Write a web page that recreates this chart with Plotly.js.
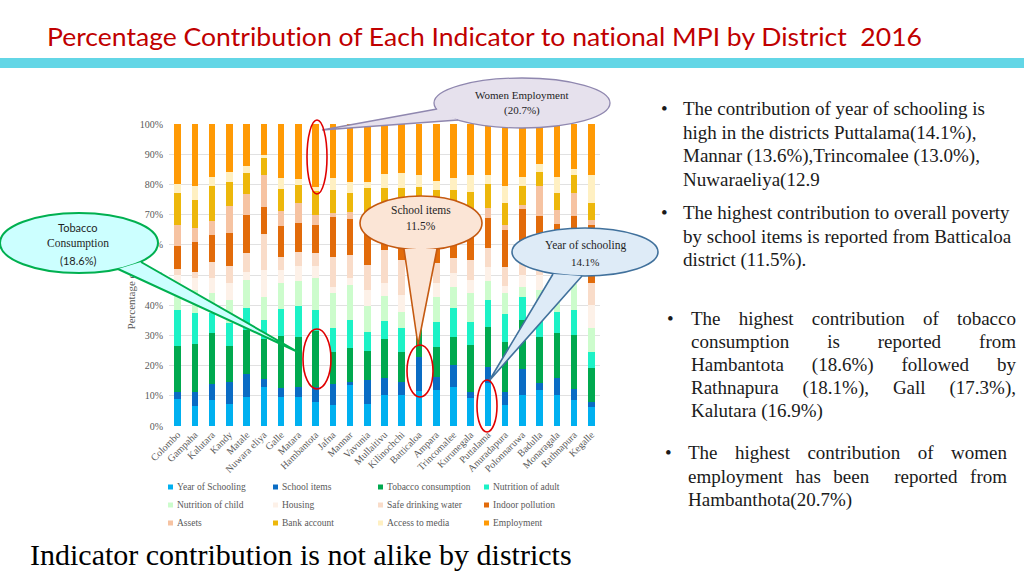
<!DOCTYPE html>
<html>
<head>
<meta charset="utf-8">
<script src="https://cdn.plot.ly/plotly-3.0.1.min.js"></script>
<style>
html,body{margin:0;padding:0;background:#fff;width:1024px;height:576px;overflow:hidden;position:relative;}
#ytitle{position:absolute;left:131px;top:277px;transform:translate(-50%,-50%) rotate(-90deg);font:11px "Liberation Serif","Times New Roman",serif;color:#595959;white-space:nowrap;z-index:0;}
#chart{position:absolute;left:0;top:0;width:1024px;height:576px;z-index:1;}
#title{position:absolute;left:47px;top:21px;font:25px "Lato",sans-serif;color:#C00000;white-space:nowrap;transform-origin:0 0;z-index:2;font-variant-ligatures:none;font-feature-settings:"liga" 0;}
#band{position:absolute;left:0;top:58px;width:1024px;height:10px;background:#63D6E6;z-index:2;}
.bul{position:absolute;font:19px "Liberation Serif","Times New Roman",serif;color:#1a1a1a;line-height:23.5px;z-index:2;}
.bul .dot{position:absolute;top:0;}
.j{text-align:justify;text-align-last:justify;}
#caption{position:absolute;left:30px;top:538px;font:30px "Liberation Serif","Times New Roman",serif;color:#000;line-height:34px;white-space:nowrap;z-index:2;}
</style>
</head>
<body>
<div id="ytitle">Percentage contribution</div>
<div id="chart"></div>
<div id="title"><span id="titletext">Percentage Contribution of Each Indicator to national MPI by District&nbsp; 2016</span></div>
<div id="band"></div>

<div class="bul" style="left:683px;top:97px;width:340px;">
  <span class="dot" style="left:-22px;">•</span>
  <div>The contribution of year of schooling is</div>
  <div>high in the districts Puttalama(14.1%),</div>
  <div>Mannar (13.6%),Trincomalee (13.0%),</div>
  <div>Nuwaraeliya(12.9</div>
</div>
<div class="bul" style="left:683px;top:201px;width:340px;">
  <span class="dot" style="left:-22px;">•</span>
  <div>The highest contribution to overall poverty</div>
  <div>by school items is reported from Batticaloa</div>
  <div>district (11.5%).</div>
</div>
<div class="bul" style="left:691px;top:307px;width:325px;line-height:23.1px;">
  <span class="dot" style="left:-24px;">•</span>
  <div class="j">The highest contribution of tobacco</div>
  <div class="j">consumption is reported from</div>
  <div class="j">Hambantota (18.6%) followed by</div>
  <div class="j">Rathnapura (18.1%), Gall (17.3%),</div>
  <div>Kalutara (16.9%)</div>
</div>
<div class="bul" style="left:688px;top:441px;width:319px;">
  <span class="dot" style="left:-23px;">•</span>
  <div class="j">The highest contribution of women</div>
  <div class="j">employment has been &nbsp;reported from</div>
  <div>Hambanthota(20.7%)</div>
</div>
<div id="caption">Indicator contribution is not alike by districts</div>

<script>
// ---- data (percent contribution of each indicator) ----
const districts = ['Colombo','Gampaha','Kalutara','Kandy','Matale','Nuwara eliya','Galle','Matara','Hambantota','Jafna','Mannar','Vavunia','Mullaitivu','Kilinochchi','Batticaloa','Ampara','Trincomalee','Kurunegala','Puttalama','Anuradapura','Polonnaruwa','Badulla','Monaragala','Rathnapura','Kegalle'];

const yearOfSchooling   = [9.1,6.6,8.6,7.3,9.5,12.9,9.5,9.5,7.9,7.0,13.6,7.3,10.3,10.3,11.5,11.9,13.0,9.2,14.1,7.0,10.3,11.9,10.3,8.6,6.4];
const schoolItems       = [2.3,4.8,5.2,7.3,7.6,2.6,3.0,3.5,5.0,6.9,1.1,7.9,5.5,4.4,11.5,4.4,7.2,2.2,5.5,4.4,8.5,2.4,5.5,3.5,1.7];
const tobacco           = [15.1,15.8,16.9,11.9,14.7,13.3,17.3,16.6,18.6,10.7,11.0,9.8,12.9,9.9,9.9,10.0,9.4,15.4,13.3,16.5,16.3,15.1,15.1,18.1,11.0];
const nutritionAdult    = [11.9,10.3,6.8,7.6,7.4,6.3,8.9,10.1,6.9,7.7,9.4,6.2,6.0,7.9,4.1,8.2,9.4,7.7,8.7,9.1,7.5,7.6,7.0,8.2,5.5];
const nutritionChild    = [6.1,7.5,6.5,7.6,9.1,7.7,8.8,8.3,10.6,11.7,11.6,8.5,8.3,5.4,7.0,8.2,7.1,9.5,6.4,7.0,3.4,8.0,9.5,8.7,7.9];
const housing           = [5.5,4.0,5.0,5.7,2.7,9.0,4.0,5.0,4.0,2.0,2.3,5.3,4.4,5.5,4.0,4.7,4.5,4.3,4.8,2.5,4.0,5.0,3.6,5.0,7.5];
const safeDrinkingWater = [1.9,2.0,5.4,5.6,6.2,11.7,4.4,4.7,4.4,10.0,7.6,8.3,10.9,11.6,7.5,6.6,5.0,6.7,6.0,6.3,7.0,6.0,5.0,5.0,7.5];
const indoorPollution   = [7.7,9.9,8.8,10.8,12.7,8.9,10.3,9.4,9.1,13.2,11.8,14.7,9.4,11.0,14.5,13.5,12.4,12.0,10.0,12.1,14.7,13.5,11.0,12.3,19.1];
const assets            = [7.0,4.6,4.7,9.0,6.9,10.7,5.0,6.6,3.3,1.3,2.6,2.9,3.3,4.0,5.7,3.5,3.0,3.5,3.3,1.7,1.5,10.0,4.5,7.7,1.6];
const bankAccount       = [10.4,9.5,11.6,8.1,7.1,5.5,7.2,6.1,8.0,7.5,6.3,8.0,7.9,8.8,3.3,7.0,7.0,7.1,8.0,7.4,6.3,4.7,5.8,6.1,5.6];
const accessToMedia     = [3.1,4.5,3.1,3.3,2.2,1.1,3.6,1.9,1.5,4.0,3.6,2.0,4.5,5.0,4.1,3.2,4.0,5.5,3.0,5.5,3.1,2.6,5.3,1.9,9.2];
const employment        = [19.9,20.5,17.4,15.8,13.9,10.3,18.0,18.3,20.7,18.0,19.1,19.1,16.6,16.2,16.9,18.8,18.0,16.9,16.9,20.5,17.4,13.2,17.4,14.9,17.0];

const indicators = ['Year of Schooling','School items','Tobacco consumption','Nutrition of adult','Nutrition of child','Housing','Safe drinking water','Indoor pollution','Assets','Bank account','Access to media','Employment'];
const series = [yearOfSchooling,schoolItems,tobacco,nutritionAdult,nutritionChild,housing,safeDrinkingWater,indoorPollution,assets,bankAccount,accessToMedia,employment];
const colors = ['#00B0F0','#0A6CC4','#00A94F','#1CF2C6','#CCFCCC','#FDF1E8','#F9DCC9','#E26B0A','#F6C3A2','#EDB70B','#FFF0C2','#FF9A05'];

// ---- geometry helpers (pixel -> paper) ----
const L = 169, R = 600, T = 124, B = 426;
const W = R - L, H = B - T;
const px = x => (x - L) / W;
const py = y => (B - y) / H;

const traces = series.map((vals, i) => ({
  type: 'bar', name: indicators[i], x: districts, y: vals,
  marker: {color: colors[i]}, showlegend: false, hoverinfo: 'skip'
}));

const serif = '"Liberation Serif","Times New Roman",serif';
const shapes = [];
const annotations = [];

function ellipse(cx, cy, rx, ry, fill, line, lw) {
  return {type: 'circle', xref: 'paper', yref: 'paper',
    x0: px(cx - rx), x1: px(cx + rx), y0: py(cy + ry), y1: py(cy - ry),
    fillcolor: fill, line: {color: line, width: lw}};
}
function tail(b1, tip, b2, fill, line, lw) {
  const f = p => px(p[0]).toFixed(5) + ',' + py(p[1]).toFixed(5);
  return {type: 'path', xref: 'paper', yref: 'paper',
    path: 'M' + f(b1) + 'L' + f(tip) + 'L' + f(b2),
    fillcolor: fill, line: {color: line, width: lw}};
}
function label(x, y, text, size, family) {
  annotations.push({xref: 'paper', yref: 'paper', x: px(x), y: py(y), text: text,
    showarrow: false, xanchor: 'center', yanchor: 'middle',
    font: {family: family || serif, size: size, color: '#1f1f1f'}});
}

// callout: women employment
shapes.push(ellipse(522, 103, 88, 25, '#E6E1ED', '#8F87AF', 1.3));
shapes.push(tail([437, 109], [322, 130], [458, 120], '#E6E1ED', '#8F87AF', 1.3));
label(522, 95, 'Women Employment', 11);
label(522, 111, '(20.7%)', 11);

// callout: school items
shapes.push(ellipse(421, 223, 61, 27, '#FBE5D6', '#C55A11', 1.6));
shapes.push(tail([404, 249], [418, 345], [437, 249], '#FBE5D6', '#C55A11', 1.6));
label(421, 210, 'School items', 11.5);
label(421, 226, '11.5%', 11.5);

// callout: year of schooling
shapes.push(ellipse(585, 252, 73, 24, '#DEEBF7', '#41719C', 1.6));
shapes.push(tail([553, 274], [489, 381], [582, 276], '#DEEBF7', '#41719C', 1.6));
label(585, 245, 'Year of schooling', 11.5);
label(585, 262, '14.1%', 11);

// callout: tobacco consumption
shapes.push(ellipse(79, 243, 79, 30, '#CCFFFF', '#00B050', 2));
shapes.push(tail([118, 269], [298, 352], [141, 262], '#CCFFFF', '#00B050', 2));
label(78, 227, 'Tobacco', 11, 'Lato, sans-serif');
label(78, 243, 'Consumption', 11.5);
label(78, 260, '(18.6%)', 11, 'Lato, sans-serif');

// red highlight ellipses
const red = '#E00000';
shapes.push(ellipse(317, 157, 10, 37, 'rgba(0,0,0,0)', red, 1.6));
shapes.push(ellipse(317, 359, 14, 30, 'rgba(0,0,0,0)', red, 1.6));
shapes.push(ellipse(420, 371, 13, 26, 'rgba(0,0,0,0)', red, 1.6));
shapes.push(ellipse(487, 406, 10, 26, 'rgba(0,0,0,0)', red, 1.6));

// legend (3 rows x 4 columns)
const legCols = [168, 273, 378, 484];
const legRows = [487, 505, 523];
indicators.forEach((name, i) => {
  const cx = legCols[i % 4], cy = legRows[Math.floor(i / 4)];
  shapes.push({type: 'rect', xref: 'paper', yref: 'paper',
    x0: px(cx), x1: px(cx + 5), y0: py(cy + 2.5), y1: py(cy - 2.5),
    fillcolor: colors[i], line: {width: 0}});
  annotations.push({xref: 'paper', yref: 'paper', x: px(cx + 7), y: py(cy), text: name,
    showarrow: false, xanchor: 'left', yanchor: 'middle',
    font: {family: serif, size: 9.5, color: '#595959'}});
});

const layout = {
  width: 1024, height: 576, autosize: false,
  margin: {l: L, r: 1024 - R, t: T, b: 576 - B, pad: 0},
  paper_bgcolor: 'rgba(0,0,0,0)', plot_bgcolor: 'rgba(0,0,0,0)',
  barmode: 'stack', bargap: 0.62,
  showlegend: false,
  xaxis: {type: 'category', tickangle: -45, showgrid: false, showline: false, zeroline: false,
    ticks: '', tickfont: {family: serif, size: 10, color: '#595959'}, fixedrange: true},
  yaxis: {range: [0, 100], dtick: 10, tick0: 0, ticksuffix: '%', showgrid: true,
    gridcolor: '#D9D9D9', gridwidth: 0.8, zeroline: false, showline: false, ticks: '',
    ticklabelstandoff: 5,
    tickfont: {family: serif, size: 10, color: '#595959'}, fixedrange: true},
  shapes: shapes,
  annotations: annotations
};

Plotly.newPlot('chart', traces, layout, {staticPlot: true, displayModeBar: false});

// fit the page title to the slide width (uses untransformed width)
function fitTitle() {
  const s = document.getElementById('titletext');
  const w = s.offsetWidth;
  if (w > 0) document.getElementById('title').style.transform = 'scaleX(' + (875 / w) + ')';
}
fitTitle();
if (document.fonts && document.fonts.ready) document.fonts.ready.then(fitTitle);
</script>
</body>
</html>
